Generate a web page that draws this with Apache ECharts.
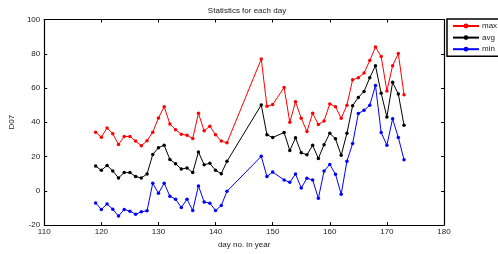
<!DOCTYPE html>
<html>
<head>
	<meta charset="UTF-8">
	<title>Statistics for each day</title>
	<script src="https://cdn.jsdelivr.net/npm/echarts@6/dist/echarts.min.js"></script>
	<style>
		html, body { margin: 0; padding: 0; background: #fff; }
		#main { width: 498px; height: 254px; }
	</style>
</head>
<body>
<div id="main"></div>
<script type="text/javascript">
	// day numbers (no data for 143-147 and 151)
	var days = [119, 120, 121, 122, 123, 124, 125, 126, 127, 128, 129, 130, 131, 132, 133, 134, 135, 136, 137, 138, 139, 140, 141, 142,
		148, 149, 150, 152, 153, 154, 155, 156, 157, 158, 159, 160, 161, 162, 163, 164, 165, 166, 167, 168, 169, 170, 171, 172, 173];
	var maxVals = [34.2, 31.3, 36.7, 33.3, 27, 31.7, 31.7, 29, 26.3, 29.2, 34.2, 42.5, 49.1, 39, 35.6, 33, 32.4, 30.5, 45.2, 35, 37.7, 32.7, 29, 28,
		76.9, 49.3, 50.3, 60.3, 40, 52, 42.3, 34.6, 45.2, 38.7, 40.8, 50.7, 49.1, 42.3, 50, 64.8, 66, 68.7, 76, 84, 78.4, 58.3, 73, 80.1, 56.1];
	var avgVals = [14.4, 11.9, 14.8, 11.6, 7.5, 10.6, 10.6, 8.3, 7.5, 9.8, 21.2, 25.1, 26.6, 18.3, 15.8, 12.7, 13.3, 10.6, 22.6, 15.2, 16, 11.9, 10, 17.2,
		50.1, 32.7, 31.1, 34, 23.5, 30.9, 22.2, 21, 26.5, 18.9, 26.9, 33.6, 30.3, 20.7, 33.6, 49.7, 54.5, 58, 66, 73, 56.9, 43.1, 63.3, 56.5, 38.3];
	var minVals = [-7.1, -10.9, -7.7, -10.8, -14.8, -10.9, -11.9, -13.7, -12.3, -11.7, 4.4, -1.5, 4.4, -3.2, -4.9, -9.8, -4.9, -11.5, 2.8, -6.5, -7.3, -11.5, -8.6, -0.3,
		20.1, 8.3, 10.9, 6.3, 4.9, 9.8, 1.6, 7.3, 6.3, -4.4, 11.5, 15.4, 9.6, -2, 17.2, 27.6, 45.1, 47, 49.9, 61.5, 34, 26.6, 42, 31.1, 18.1];

	var seriesNames = ['max', 'avg', 'min'];
	var seriesColors = ['#ff0000', '#000000', '#0000ff'];
	var seriesVals = [maxVals, avgVals, minVals];

	var font = 'Liberation Sans';

	function pairs(vals) {
		return days.map(function (d, i) { return [d, vals[i]]; });
	}

	var series = seriesNames.map(function (name, k) {
		return {
			name: name,
			type: 'line',
			xAxisIndex: 0,
			yAxisIndex: 0,
			data: pairs(seriesVals[k]),
			symbol: 'circle',
			symbolSize: 3.5,
			color: seriesColors[k],
			lineStyle: { width: 1, color: seriesColors[k] },
			itemStyle: { color: seriesColors[k] },
			animation: false
		};
	});

	var axisCommon = {
		axisLine: { show: true, onZero: false, lineStyle: { color: '#000', width: 1.2 } },
		axisTick: { show: true, inside: true, length: 3, lineStyle: { color: '#000' } },
		splitLine: { show: false }
	};

	var myChart = echarts.init(document.getElementById('main'));
	var option = {
		backgroundColor: '#fff',
		title: {
			text: 'Statistics for each day',
			left: 242,
			textAlign: 'center',
			top: 2,
			textStyle: { fontFamily: font, fontSize: 8, fontWeight: 'normal', color: '#222' }
		},
		legend: {
			data: seriesNames,
			orient: 'vertical',
			left: 447,
			top: 19,
			padding: [3, 40, 3, 5],
			itemWidth: 26,
			itemHeight: 6,
			itemGap: 3.6,
			borderColor: '#000',
			borderWidth: 1.5,
			backgroundColor: '#fff',
			textStyle: { fontFamily: font, fontSize: 8, color: '#222', padding: [0, 0, 0, -2] }
		},
		grid: { left: 40, right: 54, top: 19.5, bottom: 28 },
		xAxis: [
			Object.assign({}, axisCommon, {
				type: 'value', min: 110, max: 180, interval: 10, position: 'bottom',
				name: 'day no. in year', nameLocation: 'middle', nameGap: 16,
				nameTextStyle: { fontFamily: font, fontSize: 8, color: '#222' },
				axisLabel: { fontFamily: font, fontSize: 8, color: '#222', margin: 3 }
			}),
			Object.assign({}, axisCommon, {
				type: 'value', min: 110, max: 180, interval: 10, position: 'top',
				axisLabel: { show: false }
			})
		],
		yAxis: [
			Object.assign({}, axisCommon, {
				type: 'value', min: -20, max: 100, interval: 20, position: 'left',
				name: 'D07', nameLocation: 'middle', nameGap: 26,
				nameTextStyle: { fontFamily: font, fontSize: 8, color: '#222' },
				axisLabel: { fontFamily: font, fontSize: 8, color: '#222', margin: 4 }
			}),
			Object.assign({}, axisCommon, {
				type: 'value', min: -20, max: 100, interval: 20, position: 'right',
				axisLabel: { show: false }
			})
		],
		series: series
	};
	myChart.setOption(option);
</script>
</body>
</html>
